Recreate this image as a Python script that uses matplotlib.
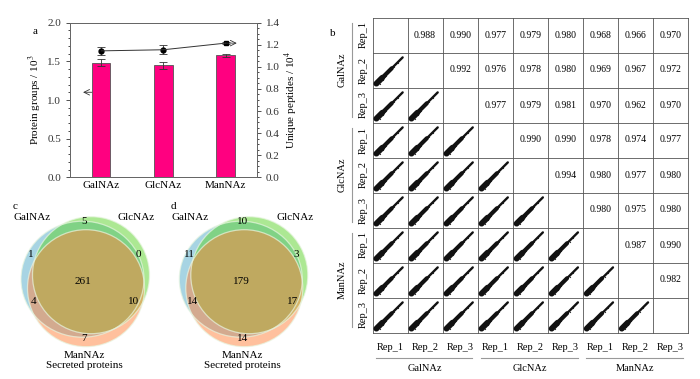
import numpy as np
import matplotlib
matplotlib.use("Agg")
import matplotlib.pyplot as plt
from matplotlib.patches import Ellipse
from matplotlib.ticker import MultipleLocator

plt.rcParams['font.family'] = ['Liberation Serif', 'DejaVu Serif']
plt.rcParams['mathtext.fontset'] = 'stix'

# ---- data ----
sugars = ["GalNAz", "GlcNAz", "ManNAz"]
protein_groups = [1.48, 1.45, 1.58]        # x10^3
protein_err = [0.045, 0.045, 0.02]
unique_peptides = [1.145, 1.155, 1.215]    # x10^4
peptide_err = [0.033, 0.04, 0.01]

reps = ["Rep_1", "Rep_2", "Rep_3"]
corr = [
    [None, 0.988, 0.990, 0.977, 0.979, 0.980, 0.968, 0.966, 0.970],
    [None, None, 0.992, 0.976, 0.978, 0.980, 0.969, 0.967, 0.972],
    [None, None, None, 0.977, 0.979, 0.981, 0.970, 0.962, 0.970],
    [None, None, None, None, 0.990, 0.990, 0.978, 0.974, 0.977],
    [None, None, None, None, None, 0.994, 0.980, 0.977, 0.980],
    [None, None, None, None, None, None, 0.980, 0.975, 0.980],
    [None, None, None, None, None, None, None, 0.987, 0.990],
    [None, None, None, None, None, None, None, None, 0.982],
    [None] * 9,
]

# hand-traced shape of the replicate scatter clouds (cell units, 0-1)
streak_pos = [0.11, 0.28, 0.55, 0.86]
streak_lw = [4.2, 3.0, 1.7]
dots_x = [0.10, 0.14, 0.18, 0.22, 0.16, 0.26, 0.12, 0.35, 0.20, 0.42, 0.30, 0.62, 0.09,
          0.50, 0.72, 0.24, 0.38, 0.13]
dots_y = [0.16, 0.09, 0.24, 0.17, 0.13, 0.33, 0.20, 0.30, 0.10, 0.47, 0.22, 0.58, 0.12,
          0.55, 0.70, 0.28, 0.34, 0.07]

venn_c = [1, 5, 0, 261, 4, 10, 7]
venn_d = [11, 10, 3, 179, 14, 17, 14]

W, H = 700, 379
fig = plt.figure(figsize=(7, 3.79), dpi=100)


def fx(px):
    return px / W


def fy(py):
    return 1 - py / H


# ---- panel a ----
ax = fig.add_axes([fx(70), fy(177.3), fx(186.7), 154.6 / H])
x = np.arange(3)
ax.bar(x, protein_groups, width=0.3, color="#ff0080", edgecolor="#555555", linewidth=0.6,
       yerr=protein_err, capsize=3, error_kw=dict(elinewidth=0.6, capthick=0.6, ecolor="#333333"))
ax.set_xlim(-0.5, 2.5)
ax.set_ylim(0, 2.0)
ax.yaxis.set_major_locator(MultipleLocator(0.5))
ax.yaxis.set_minor_locator(MultipleLocator(0.1))
ax.set_xticks(x, sugars)
ax.tick_params(axis="x", length=0, labelsize=8, pad=3)
ax.tick_params(axis="y", which="major", length=3, width=0.6, labelsize=8, colors="#333333")
ax.tick_params(axis="y", which="minor", length=1.5, width=0.5)
ax.yaxis.set_major_formatter(matplotlib.ticker.FormatStrFormatter("%.1f"))
ax.set_ylabel(r"Protein groups / 10$^3$", fontsize=8, labelpad=2)
for s in ax.spines.values():
    s.set_color("#666666")
    s.set_linewidth(0.7)
ax.annotate("", xy=(-0.29, 1.1), xytext=(-0.15, 1.1),
            arrowprops=dict(arrowstyle="->", lw=0.6, color="#333333", shrinkA=0, shrinkB=0))

ax2 = ax.twinx()
ax2.set_ylim(0, 1.4)
ax2.yaxis.set_major_locator(MultipleLocator(0.2))
ax2.yaxis.set_minor_locator(MultipleLocator(0.05))
ax2.yaxis.set_major_formatter(matplotlib.ticker.FormatStrFormatter("%.1f"))
ax2.tick_params(axis="y", which="major", length=3, width=0.6, labelsize=8, colors="#333333")
ax2.tick_params(axis="y", which="minor", length=1.5, width=0.5)
ax2.set_ylabel(r"Unique peptides / 10$^4$", fontsize=8, labelpad=2)
for s in ax2.spines.values():
    s.set_color("#666666")
    s.set_linewidth(0.7)
ax2.errorbar(x, unique_peptides, yerr=peptide_err, color="#333333", lw=0.7,
             capsize=3, elinewidth=0.6, capthick=0.6, fmt="-")
markers = ["o", "o", "s"]
for xi, yi, m in zip(x, unique_peptides, markers):
    ax2.plot(xi, yi, marker=m, color="black", ms=3.5)
ax2.annotate("", xy=(2.18, unique_peptides[2]), xytext=(2, unique_peptides[2]),
             arrowprops=dict(arrowstyle="->", lw=0.6, color="#333333", shrinkA=0, shrinkB=0))
fig.text(fx(35), fy(32), "a", fontsize=8, ha="center", va="center")

# ---- panel b ----
bx = fig.add_axes([fx(372.5), fy(332.5), fx(688 - 372.5), (332.5 - 17.5) / H])
n = 9
bx.set_xlim(0, n)
bx.set_ylim(n, 0)
bx.axis("off")
for k in range(n + 1):
    bx.plot([k, k], [0, n], color="#555555", lw=0.6, clip_on=False)
    bx.plot([0, n], [k, k], color="#555555", lw=0.6, clip_on=False)
for i in range(n):
    for j in range(n):
        if j > i:
            bx.text(j + 0.5, i + 0.5, "%.3f" % corr[i][j], ha="center", va="center", fontsize=7)
        elif j < i:
            for k in range(len(streak_lw)):
                p0, p1 = streak_pos[k], streak_pos[k + 1]
                bx.plot([j + p0, j + p1], [i + 1 - p0, i + 1 - p1], color="#111111",
                        lw=streak_lw[k], solid_capstyle="round")
            bx.scatter([j + d for d in dots_x], [i + 1 - d for d in dots_y], s=0.8,
                       color="#333333", linewidths=0)
for k in range(n):
    bx.text(-0.27, k + 0.5, reps[k % 3], rotation=90, ha="center", va="center", fontsize=7.5)
    bx.text(k + 0.5, 9.42, reps[k % 3], ha="center", va="center", fontsize=7.5)
for g in range(3):
    bx.plot([-0.585, -0.585], [3 * g + 0.15, 3 * g + 2.85], color="#999999", lw=0.8, clip_on=False)
    bx.text(-0.87, 3 * g + 1.5, sugars[g], rotation=90, ha="center", va="center", fontsize=7.5)
    bx.plot([3 * g + 0.1, 3 * g + 2.85], [9.72, 9.72], color="#999999", lw=0.8, clip_on=False)
    bx.text(3 * g + 1.5, 10.03, sugars[g], ha="center", va="center", fontsize=7.5)
fig.text(fx(333), fy(33), "b", fontsize=8, ha="center", va="center")

# ---- panels c, d (Venn) ----
vx = fig.add_axes([0, 0, fx(330), (379 - 195) / H])
vx.set_xlim(0, 330)
vx.set_ylim(379, 195)
vx.axis("off")
# (dx, dy, width, height) of each set shape around the diagram centre
shape_off = [(-1.5, -2.5, 123, 116), (7, -6.5, 117, 117), (2, 6.5, 117, 117)]
shape_col = ["#50aac8", "#5ad228", "#ff823c"]
label_off = [(-53, -27), (0, -60), (54, -27), (-1, 0), (-50, 20), (50, 20), (0, 57)]
for cx, counts, tag in [(84, venn_c, "c"), (242.3, venn_d, "d")]:
    cy = 281.7
    for (dx, dy, w, h), col in zip(shape_off, shape_col):
        vx.add_patch(Ellipse((cx + dx, cy + dy), w, h, facecolor=col, alpha=0.5, edgecolor="none"))
    for (dx, dy, w, h) in shape_off:
        vx.add_patch(Ellipse((cx + dx, cy + dy), w, h, facecolor="none", edgecolor="#e8f5e0",
                             lw=0.9, alpha=0.7))
    for (dx, dy), v in zip(label_off, counts):
        vx.text(cx + dx, cy + dy, str(v), ha="center", va="center", fontsize=8)
    vx.text(cx - 69, 206.5, tag, ha="center", va="center", fontsize=8)
    vx.text(cx - 52, 218, "GalNAz", ha="center", va="center", fontsize=8)
    vx.text(cx + 52.5, 218, "GlcNAz", ha="center", va="center", fontsize=8)
    vx.text(cx, 355, "ManNAz", ha="center", va="center", fontsize=8)
    vx.text(cx, 365.5, "Secreted proteins", ha="center", va="center", fontsize=8)

fig.savefig("out.png", dpi=100)
